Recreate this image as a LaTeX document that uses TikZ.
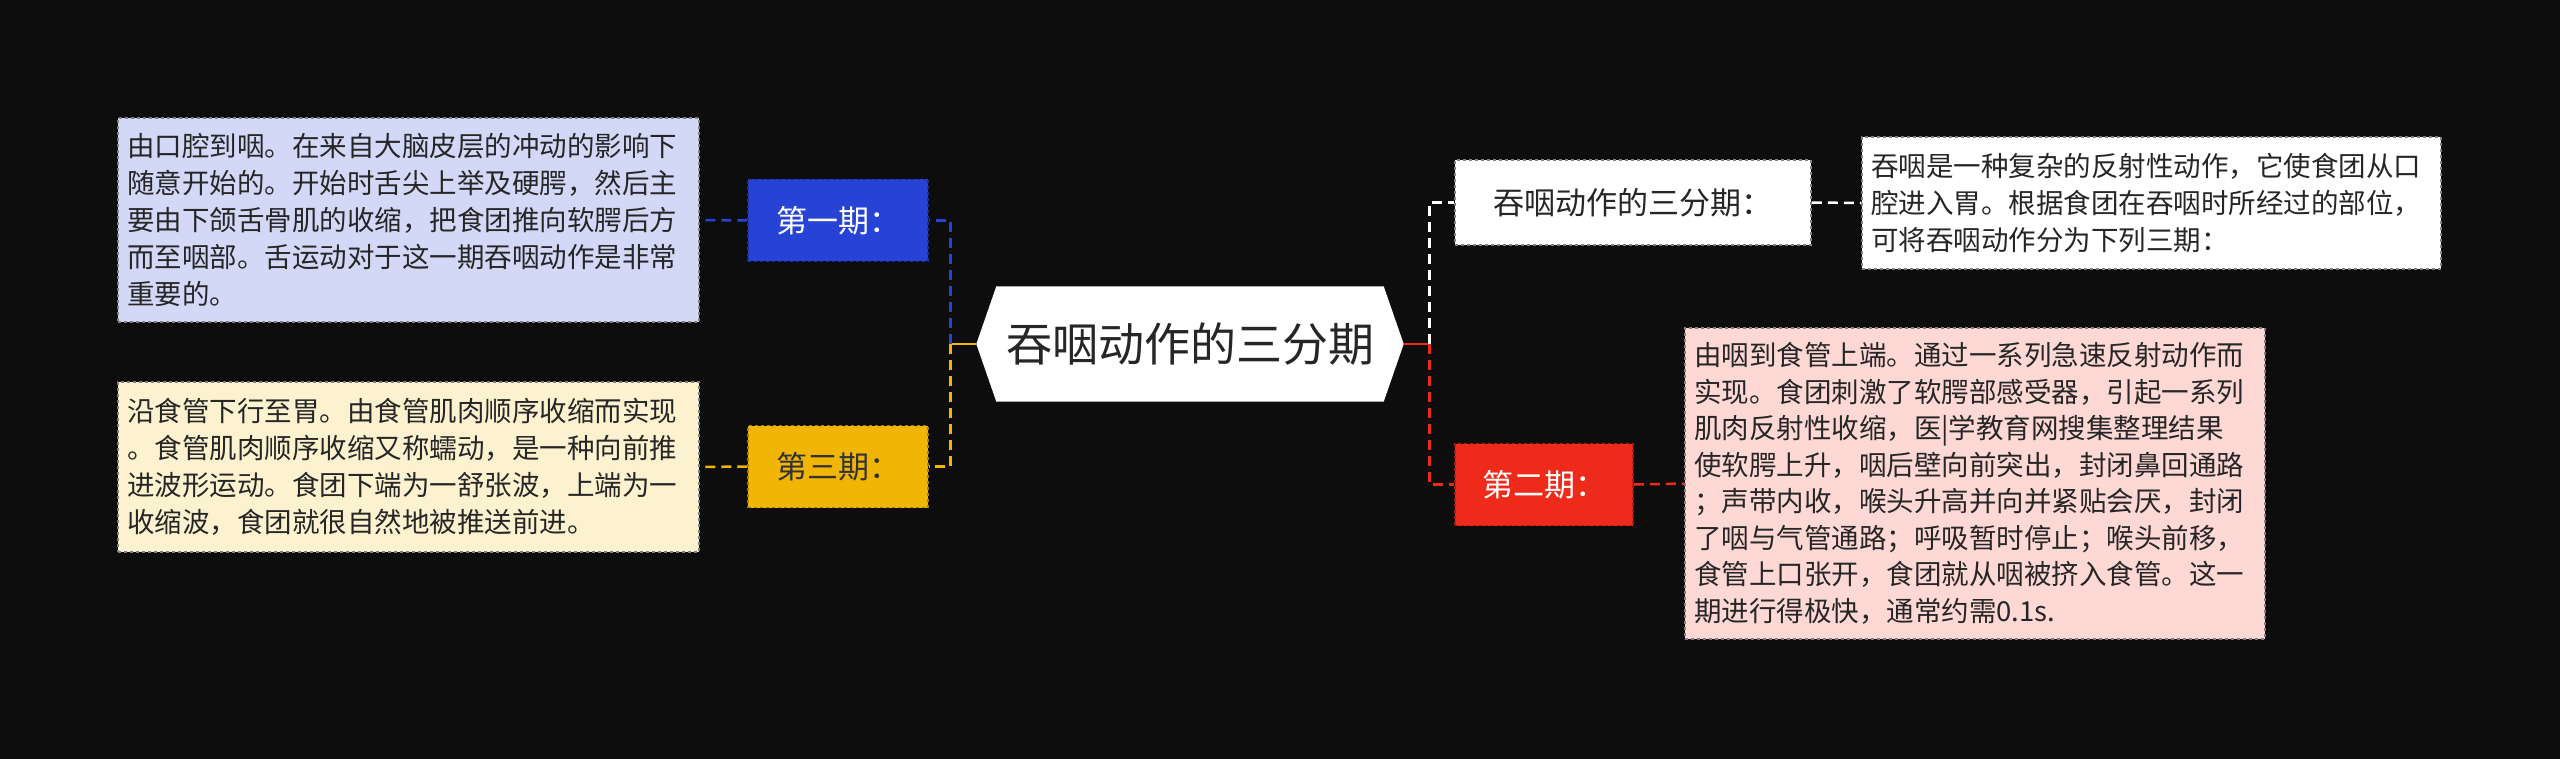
\documentclass[tikz,border=0pt]{standalone}
\usepackage{fontspec}
\setmainfont{Noto Sans CJK SC}
\definecolor{bg}{HTML}{0D0D0D}
\definecolor{cblue}{HTML}{2743D6}
\definecolor{cyel}{HTML}{F0B505}
\definecolor{cred}{HTML}{EE2A1B}
\definecolor{fblue}{HTML}{D3D8F7}
\definecolor{fyel}{HTML}{FDF2D0}
\definecolor{fred}{HTML}{FDD8D5}
\tikzset{
  lbl/.style={draw=#1!70!black, dashed, line width=1.5pt, fill=#1, minimum width=180pt, minimum height=82pt, font=\fontsize{31}{36}\selectfont, inner sep=0pt},
  txt/.style={draw=gray, dashed, line width=1.5pt, fill=#1, text=black!85, inner sep=0pt, font=\fontsize{27.5}{37}\selectfont, align=left},
  conn/.style={draw=#1, dashed, dash pattern=on 10pt off 6pt, line width=2.5pt},
}
\begin{document}
\begin{tikzpicture}[x=1pt,y=-1pt]
\fill[bg] (0,0) rectangle (2560,759);
\useasboundingbox (0,0) rectangle (2560,759);
% center
\node[minimum width=387pt, minimum height=115pt, inner sep=0pt] (c) at (1190,344) {};
\fill[white] (c.north west) -- (c.north east) -- ([xshift=20pt]c.east) -- (c.south east) -- (c.south west) -- ([xshift=-20pt]c.west) -- cycle;
\node[font=\fontsize{46}{50}\selectfont, text=black!85] at (c) {吞咽动作的三分期};
\coordinate (cl) at ([xshift=-20pt]c.west);
\coordinate (cr) at ([xshift=20pt]c.east);
% labels
\node[lbl=cblue, text=white] (p1) at (838,220.5) {第一期：};
\node[lbl=cyel, text=black!80] (p3) at (838,466.5) {第三期：};
\node[lbl=white, draw=gray, minimum width=356pt, minimum height=85pt, text=black!85] (r0) at (1633,202.5) {吞咽动作的三分期：};
\node[lbl=cred, text=white, minimum width=178pt] (p2) at (1544,484.5) {第二期：};
% text boxes
\node[txt=fblue, minimum width=581pt, minimum height=204pt, text width=563pt] (t1) at (408.5,220) {由口腔到咽。在来自大脑皮层的冲动的影响下\\随意开始的。开始时舌尖上举及硬腭，然后主\\要由下颌舌骨肌的收缩，把食团推向软腭后方\\而至咽部。舌运动对于这一期吞咽动作是非常\\重要的。};
\node[txt=fyel, minimum width=581pt, minimum height=170pt, text width=563pt] (t3) at (408.5,467) {沿食管下行至胃。由食管肌肉顺序收缩而实现\\。食管肌肉顺序收缩又称蠕动，是一种向前推\\进波形运动。食团下端为一舒张波，上端为一\\收缩波，食团就很自然地被推送前进。};
\node[txt=white, minimum width=579pt, minimum height=132pt, text width=561pt] (t0) at (2151.5,203) {吞咽是一种复杂的反射性动作，它使食团从口\\腔进入胃。根据食团在吞咽时所经过的部位，\\可将吞咽动作分为下列三期：};
\node[txt=fred, minimum width=580pt, minimum height=311pt, text width=562pt, font=\fontsize{27.5}{36.5}\selectfont] (t2) at (1975,483.5) {由咽到食管上端。通过一系列急速反射动作而\\实现。食团刺激了软腭部感受器，引起一系列\\肌肉反射性收缩，医|学教育网搜集整理结果\\使软腭上升，咽后壁向前突出，封闭鼻回通路\\；声带内收，喉头升高并向并紧贴会厌，封闭\\了咽与气管通路；呼吸暂时停止；喉头前移，\\食管上口张开，食团就从咽被挤入食管。这一\\期进行得极快，通常约需0.1s.};
% connectors
\draw[conn=cyel, dash pattern={}] (cl) -- ++(-26,0) coordinate (lj);
\draw[conn=cblue] (lj) |- (p1.east);
\draw[conn=cyel] (lj) |- (p3.east);
\draw[conn=cblue] (p1.west) -- (t1.east);
\draw[conn=cyel] (p3.west) -- (t3.east);
\draw[conn=cred, dash pattern={}] (cr) -- ++(26,0) coordinate (rj);
\draw[conn=white] (rj) |- (r0.west);
\draw[conn=cred] (rj) |- (p2.west);
\draw[conn=white] (r0.east) -- (t0.west);
\draw[conn=cred] (p2.east) -- (t2.west);
\end{tikzpicture}
\end{document}
